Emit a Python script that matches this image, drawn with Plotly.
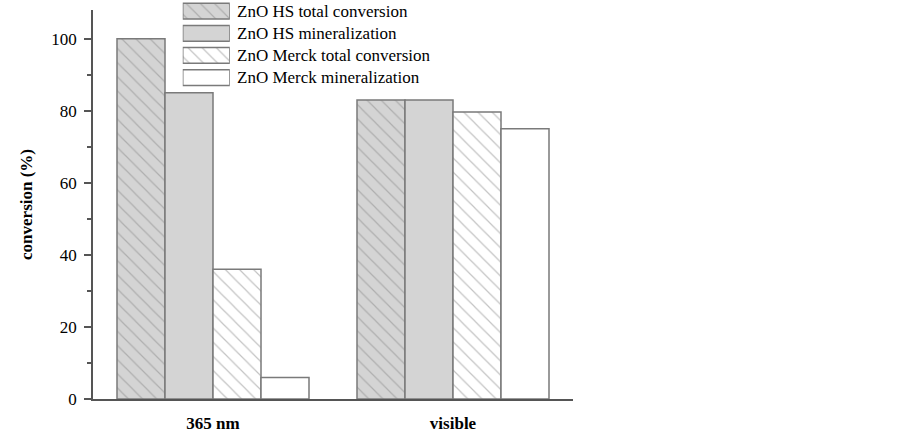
import plotly.graph_objects as go

categories = ["365 nm", "visible"]
series_names = ["ZnO HS total conversion", "ZnO HS mineralization",
                "ZnO Merck total conversion", "ZnO Merck mineralization"]
hs_total = [100, 83]
hs_mineral = [85, 83]
merck_total = [36, 79.7]
merck_mineral = [6, 75]
y_ticks = [0, 20, 40, 60, 80, 100]

values = [hs_total, hs_mineral, merck_total, merck_mineral]
styles = [
    dict(color="#d4d4d4", pattern=dict(shape="\\", fgcolor="#888888", bgcolor="#d4d4d4", size=10, solidity=0.12)),
    dict(color="#d4d4d4"),
    dict(color="white", pattern=dict(shape="\\", fgcolor="#888888", bgcolor="white", size=10, solidity=0.12)),
    dict(color="white"),
]
edge = dict(color="#7a7a7a", width=1.5)
font_fam = "Liberation Serif, Times New Roman, serif"

fig = go.Figure()
for name, vals, st in zip(series_names, values, styles):
    fig.add_trace(go.Bar(x=categories, y=vals, name=name, showlegend=False,
                         marker=dict(line=edge, **st), xaxis="x", yaxis="y"))

# custom legend swatches
for name, st in zip(series_names, styles):
    fig.add_trace(go.Bar(x=[1], y=[name], orientation="h", showlegend=False,
                         marker=dict(line=edge, **st), xaxis="x2", yaxis="y2",
                         hoverinfo="skip", width=0.71))
    fig.add_annotation(x=0.296, xref="paper", y=name, yref="y2", text=name,
                       showarrow=False, xanchor="left", yanchor="middle",
                       font=dict(family=font_fam, size=17, color="black"))

fig.update_layout(
    width=902, height=436,
    margin=dict(l=93, r=329, t=0, b=37, autoexpand=False),
    paper_bgcolor="white", plot_bgcolor="white",
    barmode="group", bargap=0.2, bargroupgap=0,
    font=dict(family=font_fam, size=17, color="black"),
    xaxis=dict(range=[-0.5, 1.5], showline=True, linecolor="#555", linewidth=1.5,
               ticks="", showgrid=False, zeroline=False, automargin=False,
               tickfont=dict(family=font_fam, size=17, color="black"),
               tickprefix="<b>", ticksuffix="</b>",
               ticklabelstandoff=8, fixedrange=True),
    yaxis=dict(domain=[0, 0.975], range=[0, 108], showline=True, linecolor="#555",
               linewidth=1.5, ticks="outside", ticklen=7, tickcolor="#555",
               tickwidth=1.5, tickvals=y_ticks, showgrid=False, zeroline=False,
               automargin=False,
               minor=dict(ticks="outside", ticklen=4, tickcolor="#555", dtick=10, tickwidth=1.5),
               tickfont=dict(family=font_fam, size=17, color="black"),
               ticklabelstandoff=4,
               title=dict(text="<b>conversion (%)</b>", standoff=14,
                          font=dict(family=font_fam, size=17, color="black"))),
    xaxis2=dict(domain=[0.187, 0.285], range=[0, 1], visible=False, anchor="y2"),
    yaxis2=dict(domain=[0.7776, 1.0], range=[3.5, -0.5], visible=False, anchor="x2",
                categoryorder="array", categoryarray=series_names),
)

fig.write_html("out.html", config={"displayModeBar": False},
               post_script="document.body.style.margin='0';document.body.style.overflow='hidden';")
